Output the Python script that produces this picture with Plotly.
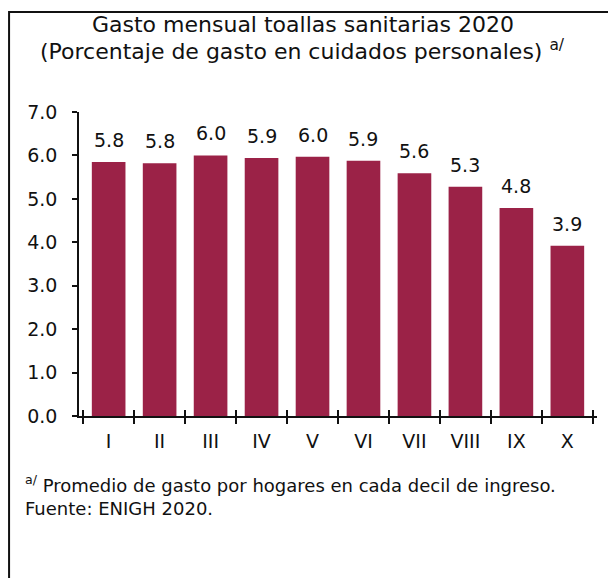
import plotly.graph_objects as go

# deciles de ingreso y gasto (%)
deciles = ["I", "II", "III", "IV", "V", "VI", "VII", "VIII", "IX", "X"]
gasto = [5.85, 5.82, 6.0, 5.94, 5.97, 5.88, 5.59, 5.28, 4.79, 3.92]
etiquetas = ["5.8", "5.8", "6.0", "5.9", "6.0", "5.9", "5.6", "5.3", "4.8", "3.9"]
y_ticks = [0, 1, 2, 3, 4, 5, 6, 7]

FONT = "DejaVu Sans"
VINO = "#9B2247"
NEGRO = "#111111"

fig = go.Figure()
fig.add_trace(go.Bar(
    x=deciles,
    y=gasto,
    marker=dict(color=VINO, line=dict(width=0)),
    hoverinfo="skip",
))
# eje duplicado para que las marcas crucen el eje x
fig.add_trace(go.Scatter(x=deciles, y=[None] * len(deciles), xaxis="x2", showlegend=False))

# etiquetas de valor sobre cada barra
notas = []
for d, v, t in zip(deciles, gasto, etiquetas):
    notas.append(dict(x=d, y=v, text=t, xref="x", yref="y", showarrow=False,
                      yanchor="bottom", yshift=9, font=dict(size=19, color=NEGRO)))

notas += [
    dict(text="Gasto mensual toallas sanitarias 2020",
         xref="paper", yref="paper", x=0.432, y=1.289,
         xanchor="center", yanchor="middle", showarrow=False,
         font=dict(size=22)),
    dict(text="(Porcentaje de gasto en cuidados personales) <sup>a/</sup>",
         xref="paper", yref="paper", x=0.432, y=1.205,
         xanchor="center", yanchor="middle", showarrow=False,
         font=dict(size=22)),
    dict(text="<sup>a/</sup> Promedio de gasto por hogares en cada decil de ingreso.<br>Fuente: ENIGH 2020.",
         xref="paper", yref="paper", x=-0.108, y=-0.176,
         xanchor="left", yanchor="top", align="left", showarrow=False,
         font=dict(size=18)),
]

fig.update_layout(
    width=608, height=570,
    margin=dict(l=71, r=19, t=104, b=162),
    paper_bgcolor="white", plot_bgcolor="white",
    showlegend=False,
    bargap=0.34,
    font=dict(family=FONT, color=NEGRO),
    xaxis=dict(
        type="category", tickson="boundaries", ticks="outside", ticklen=6,
        tickwidth=1.5, tickcolor=NEGRO, showline=True, linecolor=NEGRO,
        linewidth=1.5, tickfont=dict(size=19), showgrid=False,
        ticklabelstandoff=7,
    ),
    xaxis2=dict(
        type="category", overlaying="x", anchor="y", side="bottom",
        matches="x", tickson="boundaries", ticks="inside", ticklen=6,
        tickwidth=1.5, tickcolor=NEGRO, showticklabels=False,
        showline=False, showgrid=False,
    ),
    yaxis=dict(
        range=[0, 7], tickvals=y_ticks, tickformat=".1f", ticks="outside",
        ticklen=5, tickwidth=1.5, tickcolor=NEGRO, showline=True,
        linecolor=NEGRO, linewidth=1.5, showgrid=False, zeroline=False,
        tickfont=dict(size=19), ticklabelstandoff=11,
    ),
    annotations=notas,
    shapes=[
        dict(type="rect", xref="paper", yref="paper",
             x0=-0.135, y0=-0.8, x1=1.2, y1=1.329,
             line=dict(color=NEGRO, width=2)),
    ],
)

fig.write_html("out.html")
